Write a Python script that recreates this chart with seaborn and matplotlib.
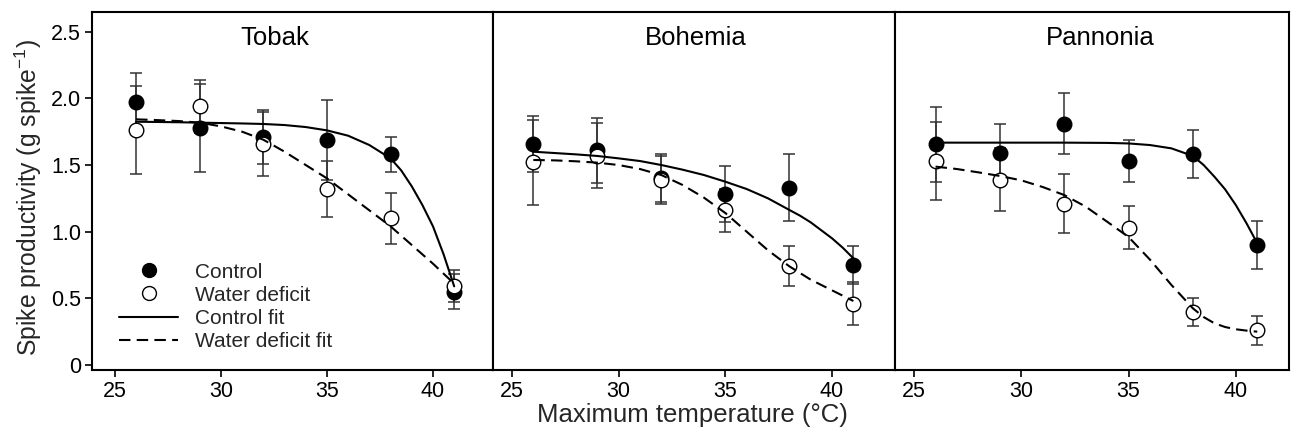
import numpy as np
import pandas as pd
import matplotlib
matplotlib.use("Agg")
import matplotlib.pyplot as plt
from matplotlib.lines import Line2D
import seaborn as sns

# ---------------- data ----------------
cultivars = ["Tobak", "Bohemia", "Pannonia"]
temps = [26, 29, 32, 35, 38, 41]

tobak_control = [1.97, 1.78, 1.71, 1.69, 1.58, 0.55]
tobak_control_err = [0.22, 0.33, 0.20, 0.30, 0.13, 0.13]
tobak_deficit = [1.76, 1.94, 1.66, 1.32, 1.10, 0.59]
tobak_deficit_err = [0.33, 0.20, 0.24, 0.21, 0.19, 0.12]

bohemia_control = [1.66, 1.61, 1.40, 1.28, 1.33, 0.75]
bohemia_control_err = [0.21, 0.245, 0.18, 0.21, 0.25, 0.14]
bohemia_deficit = [1.52, 1.57, 1.39, 1.16, 0.74, 0.46]
bohemia_deficit_err = [0.32, 0.245, 0.18, 0.16, 0.15, 0.16]

pannonia_control = [1.655, 1.59, 1.81, 1.53, 1.58, 0.90]
pannonia_control_err = [0.28, 0.22, 0.23, 0.16, 0.18, 0.18]
pannonia_deficit = [1.53, 1.39, 1.21, 1.03, 0.40, 0.26]
pannonia_deficit_err = [0.29, 0.235, 0.22, 0.16, 0.105, 0.11]

# fitted curves
fit_temps = [26, 27, 28, 29, 30, 31, 32, 33, 34, 35, 36, 37, 38, 38.5, 39, 39.5, 40, 40.5, 41]
tobak_control_fit = [1.825, 1.823, 1.821, 1.818, 1.815, 1.812, 1.808, 1.80, 1.785, 1.76,
                     1.72, 1.65, 1.55, 1.46, 1.34, 1.20, 1.04, 0.83, 0.59]
tobak_deficit_fit = [1.843, 1.837, 1.83, 1.818, 1.79, 1.75, 1.69, 1.60, 1.50, 1.40,
                     1.28, 1.16, 1.04, 0.97, 0.90, 0.83, 0.76, 0.685, 0.61]
bohemia_control_fit = [1.60, 1.59, 1.58, 1.568, 1.55, 1.53, 1.50, 1.465, 1.425, 1.375,
                       1.32, 1.25, 1.163, 1.12, 1.07, 1.01, 0.95, 0.88, 0.80]
bohemia_deficit_fit = [1.538, 1.535, 1.528, 1.518, 1.50, 1.47, 1.425, 1.35, 1.255, 1.14,
                       1.00, 0.86, 0.74, 0.69, 0.64, 0.60, 0.56, 0.52, 0.48]
pannonia_control_fit = [1.668, 1.668, 1.668, 1.668, 1.668, 1.668, 1.668, 1.667, 1.666, 1.662,
                        1.65, 1.625, 1.568, 1.50, 1.413, 1.318, 1.20, 1.063, 0.913]
pannonia_deficit_fit = [1.488, 1.47, 1.445, 1.418, 1.385, 1.335, 1.275, 1.188, 1.075, 0.96,
                        0.79, 0.60, 0.425, 0.36, 0.313, 0.285, 0.268, 0.258, 0.25]

ytick_values = [0, 0.5, 1.0, 1.5, 2.0, 2.5]
ytick_labels = ["0", "0.5", "1.0", "1.5", "2.0", "2.5"]
xtick_values = [25, 30, 35, 40]
legend_labels = ["Control", "Water deficit", "Control fit", "Water deficit fit"]

# ---------------- tidy tables ----------------
obs = {
    "Tobak": (tobak_control, tobak_control_err, tobak_deficit, tobak_deficit_err),
    "Bohemia": (bohemia_control, bohemia_control_err, bohemia_deficit, bohemia_deficit_err),
    "Pannonia": (pannonia_control, pannonia_control_err, pannonia_deficit, pannonia_deficit_err),
}
fits = {
    "Tobak": (tobak_control_fit, tobak_deficit_fit),
    "Bohemia": (bohemia_control_fit, bohemia_deficit_fit),
    "Pannonia": (pannonia_control_fit, pannonia_deficit_fit),
}
rows = []
for c in cultivars:
    cv, ce, dv, de = obs[c]
    for t, v, e in zip(temps, cv, ce):
        rows.append(dict(cultivar=c, treatment="Control", temp=t, value=v, err=e))
    for t, v, e in zip(temps, dv, de):
        rows.append(dict(cultivar=c, treatment="Water deficit", temp=t, value=v, err=e))
points = pd.DataFrame(rows)
frows = []
for c in cultivars:
    cf, df_ = fits[c]
    for t, v in zip(fit_temps, cf):
        frows.append(dict(cultivar=c, treatment="Control fit", temp=t, value=v))
    for t, v in zip(fit_temps, df_):
        frows.append(dict(cultivar=c, treatment="Water deficit fit", temp=t, value=v))
fitdf = pd.DataFrame(frows)

# ---------------- styling ----------------
sns.set_theme(style="ticks")
plt.rcParams["font.family"] = ["Liberation Sans", "DejaVu Sans"]
plt.rcParams["mathtext.default"] = "regular"
plt.rcParams["axes.edgecolor"] = "black"

W, H = 1291, 443
fig = plt.figure(figsize=(W / 100, H / 100), dpi=100)
panel_px = [(92, 493), (493, 895), (895, 1289)]
xlims = [(23.92, 42.83), (24.11, 42.95), (24.11, 42.48)]
title_x = [0.457, 0.505, 0.52]
top_px, bot_px = 12, 370
ylim = (-0.0375, 2.648)
dash = (5.5, 3)
tick_fs = 15.5

axes = []
for i, c in enumerate(cultivars):
    l, r = panel_px[i]
    ax = fig.add_axes([l / W, 1 - bot_px / H, (r - l) / W, (bot_px - top_px) / H])
    axes.append(ax)
    sub = points[points.cultivar == c]
    fsub = fitdf[fitdf.cultivar == c]

    for trt in ["Control", "Water deficit"]:
        s = sub[sub.treatment == trt]
        ax.errorbar(s.temp, s.value, yerr=s.err, fmt="none", ecolor="#333333",
                    elinewidth=1.1, capsize=4.2, capthick=1.1, zorder=2)

    sns.scatterplot(data=sub[sub.treatment == "Control"], x="temp", y="value", ax=ax,
                    s=110, color="black", edgecolor="black", linewidth=1.0,
                    legend=False, zorder=3)
    sns.scatterplot(data=sub[sub.treatment == "Water deficit"], x="temp", y="value", ax=ax,
                    s=110, color="white", edgecolor="black", linewidth=1.0,
                    legend=False, zorder=3.5)

    sns.lineplot(data=fsub[fsub.treatment == "Control fit"], x="temp", y="value", ax=ax,
                 color="black", linewidth=1.5, legend=False, zorder=4)
    sns.lineplot(data=fsub[fsub.treatment == "Water deficit fit"], x="temp", y="value", ax=ax,
                 color="black", linewidth=1.5, legend=False, zorder=4,
                 linestyle=(0, dash))

    ax.set_xlim(*xlims[i])
    ax.set_ylim(*ylim)
    ax.set_xticks(xtick_values)
    ax.set_xticklabels([str(v) for v in xtick_values])
    ax.set_xlabel("")
    ax.set_ylabel("")
    for sp in ax.spines.values():
        sp.set_visible(True)
        sp.set_linewidth(1.5)
        sp.set_color("black")
    ax.tick_params(axis="x", direction="out", length=5, width=1.2, labelsize=tick_fs,
                   pad=3, colors="black")
    ax.set_yticks(ytick_values)
    if i == 0:
        ax.set_yticklabels(ytick_labels)
        ax.tick_params(axis="y", direction="out", length=5, width=1.2, labelsize=tick_fs,
                       pad=3, colors="black")
    else:
        ax.tick_params(axis="y", left=False, labelleft=False)
    ax.text(title_x[i], (bot_px - 45) / (bot_px - top_px), c, transform=ax.transAxes,
            ha="center", va="baseline", fontsize=18.5, color="black")

# legend in first panel
handles = [
    Line2D([], [], marker="o", linestyle="none", markersize=10, markerfacecolor="black",
           markeredgecolor="black"),
    Line2D([], [], marker="o", linestyle="none", markersize=10, markerfacecolor="white",
           markeredgecolor="black", markeredgewidth=1.0),
    Line2D([], [], color="black", linewidth=1.5),
    Line2D([], [], color="black", linewidth=1.5, linestyle=(0, dash)),
]
axes[0].legend(handles, legend_labels, loc="upper left", bbox_to_anchor=(0.067, 0.30),
               frameon=False, fontsize=15, handlelength=2.85, handletextpad=0.8,
               labelspacing=0.2, borderpad=0, borderaxespad=0)

fig.text(0.022, 1 - 198 / H, "Spike productivity (g spike$^{-1}$)", rotation=90,
         ha="center", va="center", fontsize=17.8)
fig.text(692 / W, 1 - 415 / H, "Maximum temperature (°C)", ha="center", va="center",
         fontsize=18.5)

fig.savefig("out.png", dpi=100)
